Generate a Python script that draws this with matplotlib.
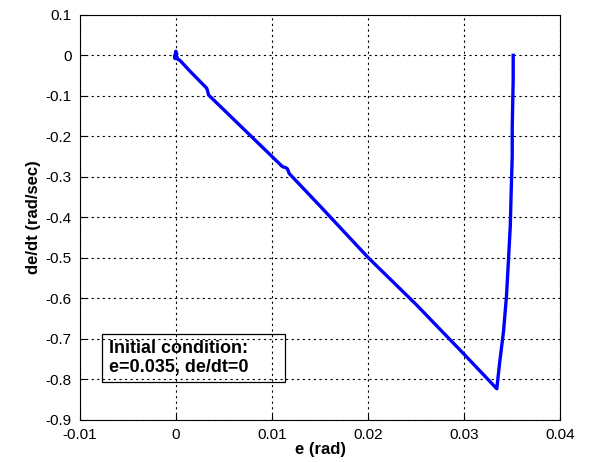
import matplotlib
matplotlib.use("Agg")
import matplotlib.pyplot as plt
from matplotlib.patches import Rectangle

plt.rcParams['font.family'] = ['Liberation Sans', 'DejaVu Sans']

# trajectory in the phase plane (e, de/dt)
e_vals = [0.0351, 0.0351, 0.0350, 0.0350, 0.0349, 0.0348, 0.0346, 0.0344, 0.0341, 0.0337, 0.0335, 0.0334,
          0.0300, 0.0250, 0.0200, 0.0150, 0.0118, 0.0116, 0.0114, 0.0111, 0.0034, 0.0033, 0.0032,
          0.0015, 0.0004, 0.0002, 0.0001, -0.0001, 0.0000, -0.0001, 0.0001, 0.0000]
dedt_vals = [0.000, -0.060, -0.180, -0.250, -0.330, -0.420, -0.510, -0.595, -0.680, -0.757, -0.800, -0.823,
             -0.738, -0.615, -0.499, -0.372, -0.292, -0.280, -0.277, -0.275, -0.098, -0.088, -0.081,
             -0.040, -0.012, -0.010, -0.003, -0.008, 0.010, -0.005, 0.004, 0.000]

xticks = [-0.01, 0, 0.01, 0.02, 0.03, 0.04]
xtick_labels = ['-0.01', '0', '0.01', '0.02', '0.03', '0.04']
yticks = [0.1, 0, -0.1, -0.2, -0.3, -0.4, -0.5, -0.6, -0.7, -0.8, -0.9]
ytick_labels = ['0.1', '0', '-0.1', '-0.2', '-0.3', '-0.4', '-0.5', '-0.6', '-0.7', '-0.8', '-0.9']

fig = plt.figure(figsize=(5.91, 4.62), dpi=100)
ax = fig.add_axes([0.135, 0.091, 0.813, 0.877])
ax.plot(e_vals, dedt_vals, color='#0000ff', linewidth=2.4)
ax.set_xlim(-0.01, 0.04)
ax.set_ylim(-0.9, 0.1)
ax.set_xticks(xticks)
ax.set_xticklabels(xtick_labels)
ax.set_yticks(yticks)
ax.set_yticklabels(ytick_labels)
ax.tick_params(direction='in', labelsize=11, length=4)
ax.tick_params(axis='x', pad=6)
ax.tick_params(axis='y', pad=6)
ax.grid(True, color='black', linestyle=(0, (2, 3)), linewidth=0.8)
for s in ax.spines.values():
    s.set_linewidth(0.8)
ax.set_xlabel('e (rad)', fontsize=12, fontweight='bold', labelpad=0)
ax.set_ylabel('de/dt (rad/sec)', fontsize=12, fontweight='bold', labelpad=3)

ax.add_patch(Rectangle((0.046, 0.094), 0.381, 0.118, transform=ax.transAxes,
                       facecolor='none', edgecolor='black', linewidth=0.9, zorder=4))
ax.text(0.06, 0.153, 'Initial condition:\ne=0.035, de/dt=0', transform=ax.transAxes,
        fontsize=13, fontweight='bold', va='center', ha='left', linespacing=1.1, zorder=5)

fig.savefig('out.png', dpi=100)
